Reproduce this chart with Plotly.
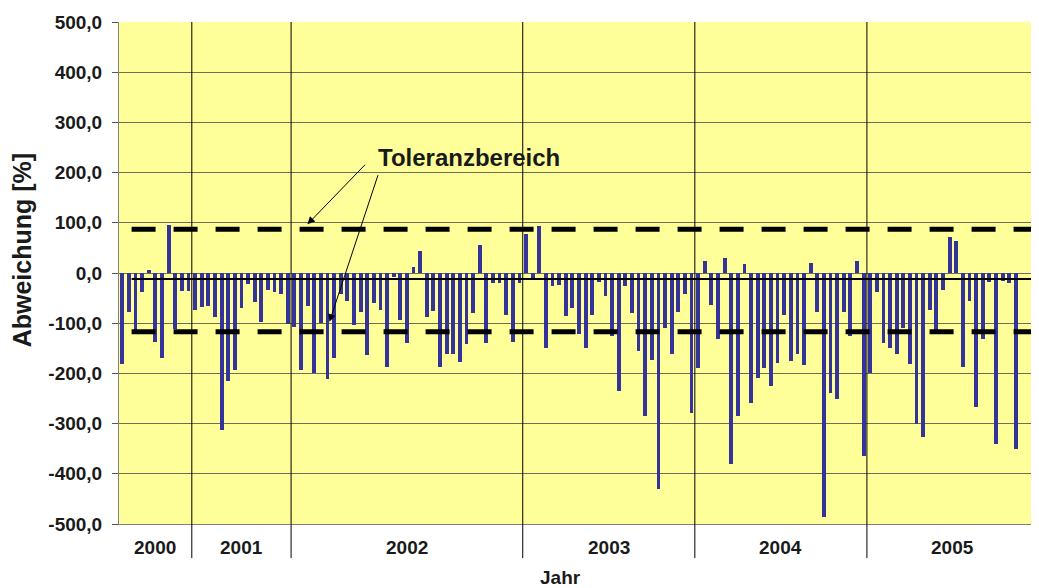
import plotly.graph_objects as go

# Abweichung [%] je Messung, gruppiert nach Jahr
years = ["2000", "2001", "2002", "2003", "2004", "2005"]

values_2000 = [-182, -78, -121, -37, 6, -137, -169, 95, -112, -35, -35]
values_2001 = [-74, -67, -65, -88, -312, -215, -194, -70, -21, -58, -97, -33,
               -38, -41, -101]
values_2002 = [-107, -194, -66, -199, -99, -211, -169, -42, -55, -104, -78, -163,
               -59, -73, -187, -8, -94, -139, 12, 43, -87, -75, -187, -161, -161,
               -178, -142, -79, 56, -139, -20, -20, -83, -137, -19]
values_2003 = [78, -11, 94, -149, -26, -24, -85, -69, -121, -150, -83, -18, -45,
               -126, -235, -25, -79, -156, -284, -174, -431, -109, -161, -77, -41,
               -278]
values_2004 = [-190, 24, -63, -131, 29, -381, -284, 18, -259, -209, -190, -225,
               -179, -84, -175, -161, -183, 19, -77, -487, -240, -251, -77, -126,
               24, -365]
values_2005 = [-199, -37, -139, -150, -161, -109, -182, -301, -326, -74, -117, -34,
               71, 63, -187, -55, -267, -132, -17, -341, -16, -20, -351,
               None, None, None]

tolerance_upper = 87
tolerance_lower = -117
reference_line = -12

y_ticks = [500, 400, 300, 200, 100, 0, -100, -200, -300, -400, -500]
y_tick_text = ["500,0", "400,0", "300,0", "200,0", "100,0", "0,0", "-100,0",
               "-200,0", "-300,0", "-400,0", "-500,0"]

groups = [values_2000, values_2001, values_2002, values_2003, values_2004, values_2005]
values = [v for g in groups for v in g]
x = list(range(1, len(values) + 1))
n = len(values)

# group boundaries
bounds = [0]
for g in groups:
    bounds.append(bounds[-1] + len(g))

FONT = "Liberation Sans, Arial, sans-serif"
TXT = "#1a1a1a"

fig = go.Figure()

fig.add_trace(go.Bar(x=x, y=values, width=0.58, marker_color="#333399",
                     marker_line_width=0, hoverinfo="y"))

line_start = 2.4
for val, dash, w in [(tolerance_upper, "24px,18px", 5),
                     (tolerance_lower, "24px,18px", 5),
                     (reference_line, "solid", 2)]:
    fig.add_trace(go.Scatter(x=[line_start, n + 0.5], y=[val, val], mode="lines",
                             line=dict(color="black", width=w, dash=dash),
                             hoverinfo="skip"))

# year separators, reaching down through the label row
for b in bounds[1:-1]:
    fig.add_shape(type="line", xref="x", yref="paper", x0=b + 0.5, x1=b + 0.5,
                  y0=1, y1=-0.068, line=dict(color="black", width=1))

annotations = []
for i, yr in enumerate(years):
    annotations.append(dict(x=(bounds[i] + bounds[i + 1]) / 2 + 0.5, y=-0.046,
                            xref="x", yref="paper", text=yr, showarrow=False,
                            font=dict(size=19, family=FONT, color=TXT),
                            yanchor="middle"))

annotations += [
    dict(x=0.48, y=-0.107, xref="paper", yref="paper", text="Jahr", showarrow=False,
         font=dict(size=19, family=FONT, color=TXT), yanchor="middle"),
    dict(x=-0.105, y=0.546, xref="paper", yref="paper", text="Abweichung [%]",
         textangle=-90, showarrow=False, font=dict(size=25, family=FONT, color=TXT),
         xanchor="center", yanchor="middle"),
    dict(x=0.38, y=0.731, xref="paper", yref="paper", text="Toleranzbereich",
         showarrow=False, font=dict(size=24, family=FONT, color=TXT),
         xanchor="center", yanchor="middle"),
    dict(x=28.97, y=97, xref="x", yref="y", text="", showarrow=True, ax=59, ay=-61,
         arrowhead=2, arrowsize=1.5, arrowwidth=1, arrowcolor="black", standoff=0),
    dict(x=32.3, y=-97, xref="x", yref="y", text="", showarrow=True, ax=49, ay=-148,
         arrowhead=2, arrowsize=1.5, arrowwidth=1, arrowcolor="black", standoff=0),
]

# the page adds an 8px body margin, so the figure is 8px smaller on each axis
fig.update_layout(
    width=1031, height=580,
    margin=dict(l=111, r=0, t=14, b=64),
    paper_bgcolor="white", plot_bgcolor="#FFFF99",
    showlegend=False, bargap=0,
    font=dict(family=FONT, color=TXT),
    annotations=[dict(a, font=dict(a.get("font", {}), weight="bold"))
                 if "font" in a else a for a in annotations],
)

fig.update_xaxes(range=[0.5, n + 0.5], showticklabels=False, showgrid=False,
                 zeroline=False, showline=True, linecolor="#808080", linewidth=1,
                 ticks="")
fig.update_yaxes(range=[-500, 500], tickvals=y_ticks, ticktext=y_tick_text,
                 showgrid=True, gridcolor="#6e6e5a", gridwidth=1,
                 zeroline=False, showline=True, linecolor="#808080", linewidth=1,
                 ticks="outside", ticklen=6, tickcolor="#555555",
                 ticklabelstandoff=6,
                 tickfont=dict(size=19, family=FONT, color=TXT, weight="bold"))

fig.write_html("out.html")
